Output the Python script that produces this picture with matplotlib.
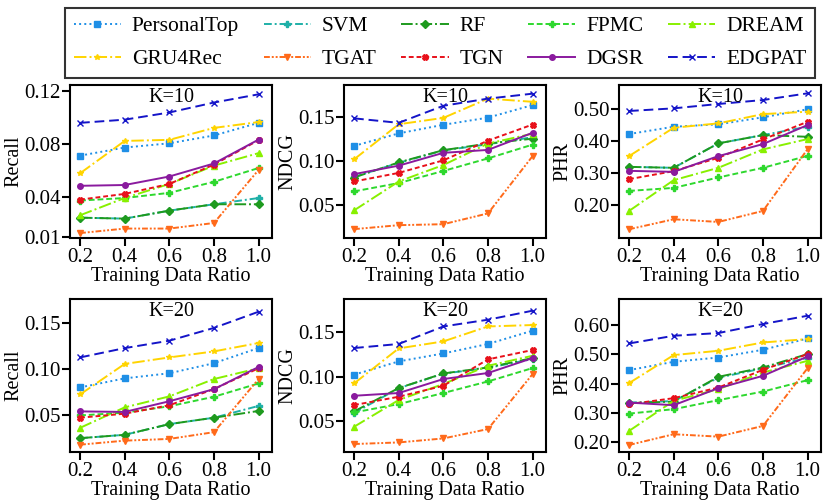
import numpy as np
import matplotlib
matplotlib.use("Agg")
import matplotlib.pyplot as plt

plt.rcParams['font.family'] = ['Liberation Serif', 'DejaVu Serif']

ratios = [0.2, 0.4, 0.6, 0.8, 1.0]
methods = ['PersonalTop', 'SVM', 'RF', 'FPMC', 'DREAM',
           'GRU4Rec', 'TGAT', 'TGN', 'DGSR', 'EDGPAT']

# K=10
recall10 = {
    'PersonalTop': [0.0715, 0.0776, 0.0808, 0.0867, 0.0962],
    'SVM':         [0.0248, 0.0241, 0.0301, 0.0349, 0.0396],
    'RF':          [0.0248, 0.0241, 0.0301, 0.0349, 0.0349],
    'FPMC':        [0.0377, 0.0396, 0.0435, 0.0518, 0.0622],
    'DREAM':       [0.0266, 0.0396, 0.0502, 0.0640, 0.0734],
    'GRU4Rec':     [0.0582, 0.0826, 0.0834, 0.0924, 0.0968],
    'TGAT':        [0.0132, 0.0166, 0.0166, 0.0208, 0.0608],
    'TGN':         [0.0384, 0.0427, 0.0502, 0.0648, 0.0832],
    'DGSR':        [0.0488, 0.0494, 0.0558, 0.0656, 0.0836],
    'EDGPAT':      [0.0962, 0.0986, 0.1040, 0.1115, 0.1177],
}
ndcg10 = {
    'PersonalTop': [0.1171, 0.1313, 0.1410, 0.1491, 0.1633],
    'SVM':         [0.0820, 0.0980, 0.1120, 0.1190, 0.1270],
    'RF':          [0.0814, 0.0985, 0.1123, 0.1198, 0.1253],
    'FPMC':        [0.0657, 0.0751, 0.0888, 0.1030, 0.1186],
    'DREAM':       [0.0442, 0.0769, 0.0955, 0.1198, 0.1309],
    'GRU4Rec':     [0.1019, 0.1416, 0.1488, 0.1706, 0.1670],
    'TGAT':        [0.0230, 0.0275, 0.0286, 0.0408, 0.1056],
    'TGN':         [0.0769, 0.0866, 0.1008, 0.1231, 0.1413],
    'DGSR':        [0.0852, 0.0948, 0.1093, 0.1126, 0.1320],
    'EDGPAT':      [0.1483, 0.1432, 0.1625, 0.1706, 0.1762],
}
phr10 = {
    'PersonalTop': [0.4226, 0.4455, 0.4530, 0.4750, 0.5000],
    'SVM':         [0.3200, 0.3170, 0.3934, 0.4194, 0.4455],
    'RF':          [0.3200, 0.3170, 0.3934, 0.4194, 0.4140],
    'FPMC':        [0.2448, 0.2542, 0.2868, 0.3170, 0.3545],
    'DREAM':       [0.1821, 0.2784, 0.3170, 0.3746, 0.4069],
    'GRU4Rec':     [0.3536, 0.4423, 0.4560, 0.4850, 0.4925],
    'TGAT':        [0.1248, 0.1561, 0.1477, 0.1821, 0.3755],
    'TGN':         [0.2815, 0.3066, 0.3483, 0.4060, 0.4610],
    'DGSR':        [0.3075, 0.3044, 0.3536, 0.3912, 0.4508],
    'EDGPAT':      [0.4947, 0.5030, 0.5166, 0.5290, 0.5500],
}

# K=20
recall20 = {
    'PersonalTop': [0.0798, 0.0897, 0.0953, 0.1063, 0.1229],
    'SVM':         [0.0243, 0.0280, 0.0397, 0.0467, 0.0596],
    'RF':          [0.0243, 0.0280, 0.0397, 0.0467, 0.0541],
    'FPMC':        [0.0492, 0.0522, 0.0592, 0.0696, 0.0842],
    'DREAM':       [0.0356, 0.0580, 0.0700, 0.0890, 0.1008],
    'GRU4Rec':     [0.0721, 0.1055, 0.1126, 0.1192, 0.1284],
    'TGAT':        [0.0172, 0.0216, 0.0235, 0.0309, 0.0890],
    'TGN':         [0.0467, 0.0511, 0.0603, 0.0780, 0.1008],
    'DGSR':        [0.0536, 0.0530, 0.0647, 0.0779, 0.1022],
    'EDGPAT':      [0.1126, 0.1228, 0.1309, 0.1449, 0.1626],
}
ndcg20 = {
    'PersonalTop': [0.1023, 0.1173, 0.1263, 0.1370, 0.1520],
    'SVM':         [0.0590, 0.0870, 0.1035, 0.1100, 0.1200],
    'RF':          [0.0608, 0.0872, 0.1037, 0.1105, 0.1211],
    'FPMC':        [0.0597, 0.0691, 0.0816, 0.0947, 0.1098],
    'DREAM':       [0.0435, 0.0737, 0.0918, 0.1124, 0.1237],
    'GRU4Rec':     [0.0924, 0.1320, 0.1399, 0.1568, 0.1584],
    'TGAT':        [0.0240, 0.0258, 0.0303, 0.0409, 0.1030],
    'TGN':         [0.0680, 0.0774, 0.0898, 0.1196, 0.1302],
    'DGSR':        [0.0785, 0.0816, 0.0974, 0.1042, 0.1211],
    'EDGPAT':      [0.1324, 0.1370, 0.1568, 0.1644, 0.1746],
}
phr20 = {
    'PersonalTop': [0.4459, 0.4743, 0.4890, 0.5154, 0.5541],
    'SVM':         [0.3350, 0.3400, 0.4200, 0.4520, 0.4880],
    'RF':          [0.3329, 0.3384, 0.4229, 0.4548, 0.5007],
    'FPMC':        [0.2973, 0.3123, 0.3432, 0.3726, 0.4116],
    'DREAM':       [0.2380, 0.3408, 0.3808, 0.4377, 0.4777],
    'GRU4Rec':     [0.4014, 0.4973, 0.5120, 0.5404, 0.5520],
    'TGAT':        [0.1900, 0.2267, 0.2185, 0.2551, 0.4527],
    'TGN':         [0.3295, 0.3500, 0.3863, 0.4469, 0.5007],
    'DGSR':        [0.3349, 0.3260, 0.3842, 0.4264, 0.4925],
    'EDGPAT':      [0.5370, 0.5633, 0.5726, 0.6034, 0.6318],
}

styles = {
    'PersonalTop': dict(color='#1f8fe6', ls=':', marker='s'),
    'SVM':         dict(color='#1fb0a8', ls=(0, (4, 1.5, 1, 1.5)), marker='P'),
    'RF':          dict(color='#1e9a1e', ls=(0, (6, 1.5, 1, 1.5)), marker='D'),
    'FPMC':        dict(color='#2ed82e', ls=(0, (3, 1.5)), marker='P'),
    'DREAM':       dict(color='#88f000', ls='-.', marker='^'),
    'GRU4Rec':     dict(color='#ffd400', ls='-.', marker='*'),
    'TGAT':        dict(color='#ff6a1a', ls=(0, (3, 1, 1, 1, 1, 1)), marker='v'),
    'TGN':         dict(color='#e8101a', ls=(0, (2.5, 1.5)), marker='X'),
    'DGSR':        dict(color='#8a1a9e', ls='-', marker='o'),
    'EDGPAT':      dict(color='#1414c8', ls=(0, (5, 2.5)), marker='x'),
}

panels = [
    (recall10, 'Recall', 'K=10', [0.01, 0.04, 0.08, 0.12], ['0.01', '0.04', '0.08', '0.12'], (0.0095, 0.1247)),
    (ndcg10, 'NDCG', 'K=10', [0.05, 0.10, 0.15], ['0.05', '0.10', '0.15'], (0.013, 0.186)),
    (phr10, 'PHR', 'K=10', [0.2, 0.3, 0.4, 0.5], ['0.20', '0.30', '0.40', '0.50'], (0.0975, 0.576)),
    (recall20, 'Recall', 'K=20', [0.05, 0.10, 0.15], ['0.05', '0.10', '0.15'], (0.0092, 0.1765)),
    (ndcg20, 'NDCG', 'K=20', [0.05, 0.10, 0.15], ['0.05', '0.10', '0.15'], (0.015, 0.1878)),
    (phr20, 'PHR', 'K=20', [0.2, 0.3, 0.4, 0.5, 0.6], ['0.20', '0.30', '0.40', '0.50', '0.60'], (0.166, 0.689)),
]

W, H = 830, 504
fig = plt.figure(figsize=(W / 100, H / 100), dpi=100)
lefts = [70, 344, 619]
tops = [85, 299]
aw, ah = 202, 153

handles = {}
for i, (data, ylab, title, yt, ytl, ylim) in enumerate(panels):
    r, c = divmod(i, 3)
    ax = fig.add_axes([lefts[c] / W, 1 - (tops[r] + ah) / H, aw / W, ah / H])
    for m in methods:
        st = styles[m]
        ln, = ax.plot(ratios, data[m], color=st['color'], linestyle=st['ls'],
                      marker=st['marker'], markersize=4, linewidth=1.4, label=m)
        if i == 0:
            handles[m] = ln
    ax.set_xlim(0.155, 1.06)
    ax.set_ylim(*ylim)
    ax.set_xticks(ratios)
    ax.set_xticklabels(['0.2', '0.4', '0.6', '0.8', '1.0'])
    ax.set_yticks(yt)
    ax.set_yticklabels(ytl)
    ax.tick_params(labelsize=15, length=6, width=1.5, pad=1)
    ax.set_xlabel('Training Data Ratio', fontsize=14.5, labelpad=0.5)
    ax.set_ylabel(ylab, fontsize=14.5, labelpad=0)
    ax.text(0.5, 0.98, title, transform=ax.transAxes, ha='center', va='top', fontsize=14.5)
    for s in ax.spines.values():
        s.set_linewidth(1.5)

# legend fills column by column, so interleave the two rows
row1 = methods[:5]
row2 = methods[5:]
order = [m for pair in zip(row1, row2) for m in pair]
fig.legend(handles=[handles[m] for m in order], loc='lower left', ncol=5, mode='expand',
           bbox_to_anchor=(65 / W, 1 - 78 / H, 750 / W, 75 / H),
           fontsize=15.5, frameon=True, fancybox=False, edgecolor='black',
           handlelength=2.2, handletextpad=0.5, borderaxespad=0.0,
           labelspacing=0.6)
fig.legends[0].get_frame().set_linewidth(1.5)

fig.savefig('out.png', dpi=100)
